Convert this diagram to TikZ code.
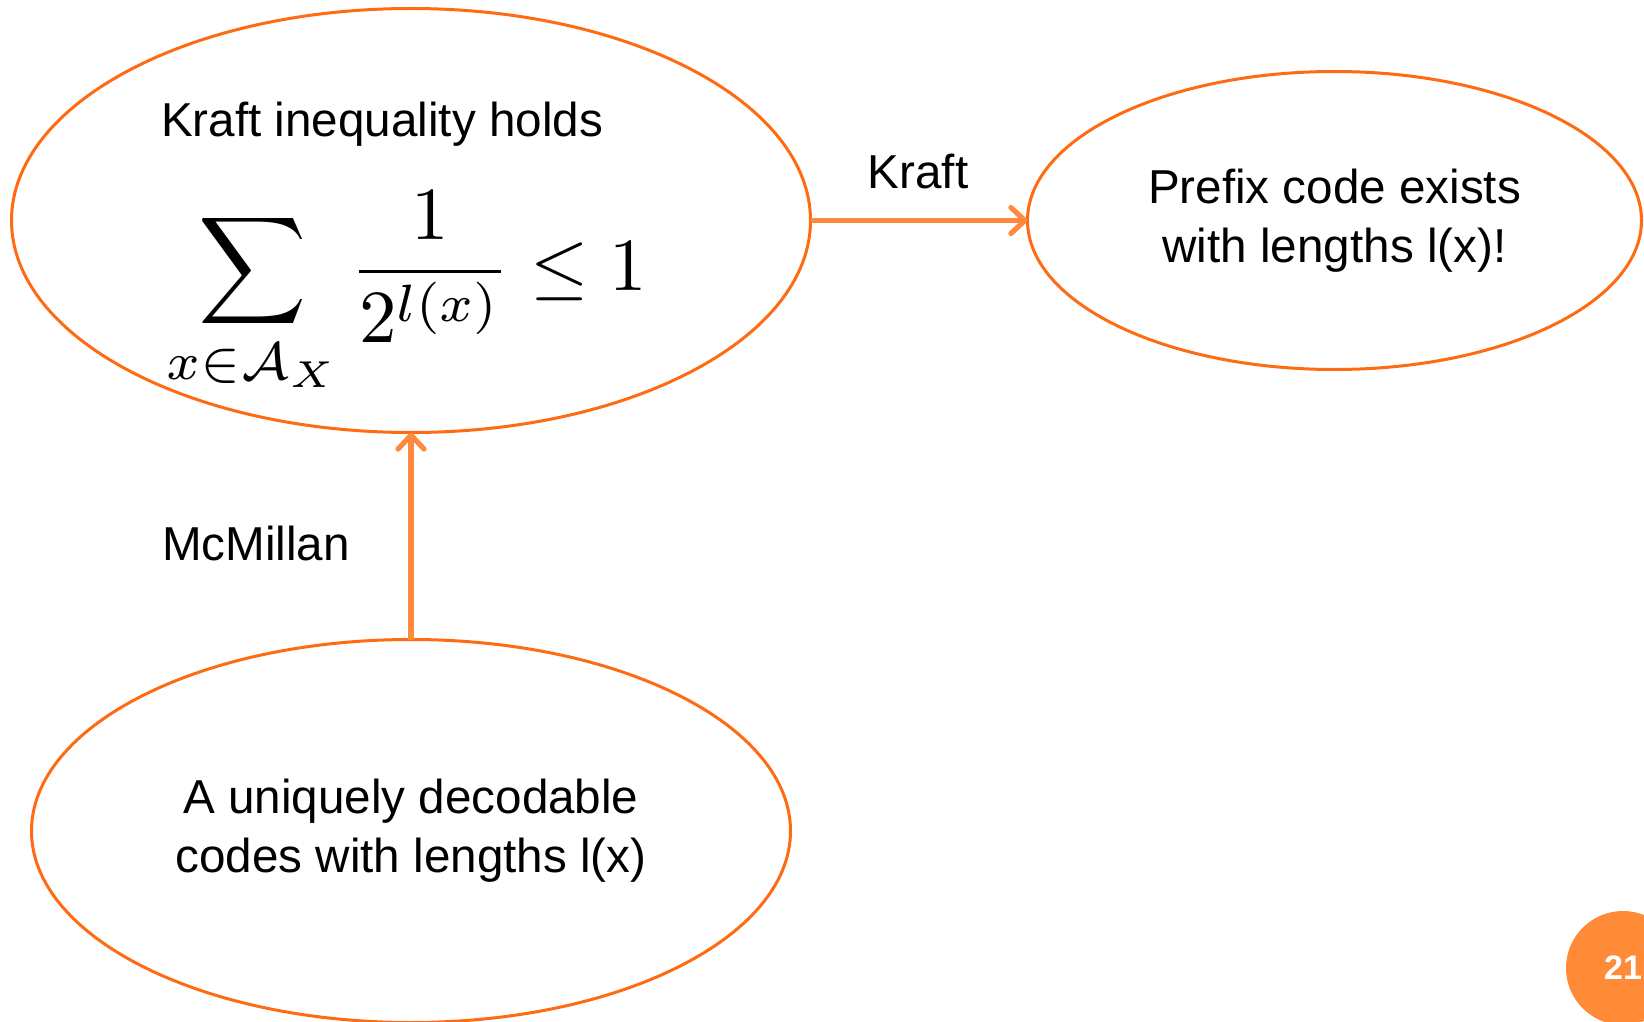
\documentclass[tikz,border=0pt]{standalone}
\usepackage[no-math]{fontspec}
\setmainfont{Liberation Sans}
\usetikzlibrary{shapes.geometric, arrows.meta, positioning}
\definecolor{ringorange}{HTML}{FF6B12}
\definecolor{arroworange}{HTML}{FF8A3D}
\definecolor{badgeorange}{HTML}{FF8A38}
\tikzset{
  oval/.style={
    ellipse, draw=ringorange, line width=1.5pt, outer sep=0pt,
    inner sep=0pt, align=center,
    font=\fontsize{23.8}{29.5}\selectfont
  },
  lbl/.style={inner sep=0pt, font=\fontsize{23.8}{29}\selectfont},
  arrow/.style={-{Straight Barb[length=7pt,width=13pt,round]},
    line width=2.6pt, #1}
}
\begin{document}
\begin{tikzpicture}[x=0.5pt, y=-0.5pt]
    \useasboundingbox (0,0) rectangle (1644,1022);
    \clip (0,0) rectangle (1644,1022);

    % Kraft inequality
    \node[oval, minimum width=399.5pt, minimum height=212pt] (kraft)
      at (411,220.5) {};
    \node[lbl, anchor=base] (holds) at (382,137) {Kraft inequality holds};
    \node[inner sep=0pt, scale=3.75, font=\fontsize{10}{12}\selectfont]
      (kraftsum) at (407,293)
      {$\displaystyle\sum_{x\in\mathcal{A}_X}\frac{1}{2^{l(x)}}\le 1$};

    % Prefix code
    \node[oval, minimum width=307pt, minimum height=149pt,
          right=108.5pt of kraft] (prefix)
      {Prefix code exists\\with lengths l(x)!};

    % Uniquely decodable
    \node[oval, minimum width=379.5pt, minimum height=191.5pt,
          below=103.5pt of kraft] (unique)
      {A uniquely decodable\\codes with lengths l(x)};

    % Flechas
    \draw[arrow=arroworange] (kraft) -- (prefix);
    \draw[arrow=arroworange] (unique) -- (kraft);
    \node[lbl, anchor=base] (kraftlbl) at (918,188) {Kraft};
    \node[lbl, anchor=base] (mcmillan) at (256,560) {McMillan};

    % Slide number
    \node[circle, fill=badgeorange, minimum size=57pt, inner sep=0pt,
          text=white, font=\fontsize{17}{17}\selectfont\bfseries]
      (slidenum) at (1623,968) {21};
\end{tikzpicture}
\end{document}
